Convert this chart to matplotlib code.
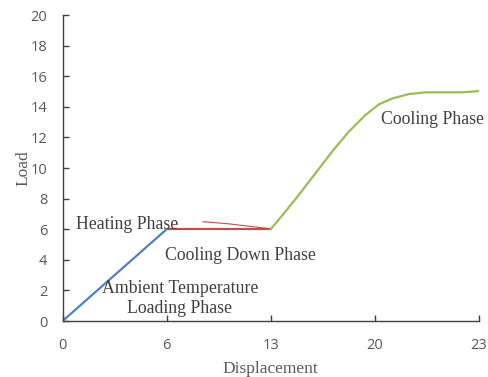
import matplotlib
matplotlib.use("Agg")
from matplotlib import pyplot as plt

# x positions are evenly spaced categories, labelled with displacement values
x_labels = ["0", "6", "13", "20", "23"]
y_ticks = list(range(0, 21, 2))

# loading phase (blue)
load_x = [0, 1]
load_y = [0, 6]

# cooling down phase (red, flat)
down_x = [1, 2]
down_y = [6, 6]

# small thin red trace above the flat segment
trace_x = [1.35, 1.59, 2.0]
trace_y = [6.49, 6.36, 6.03]

# cooling phase (green)
cool_x = [2.00, 2.14, 2.27, 2.43, 2.59, 2.75, 2.91, 3.04, 3.17, 3.33, 3.49, 3.68, 3.84, 4.00]
cool_y = [6.0, 7.14, 8.24, 9.65, 11.07, 12.37, 13.46, 14.16, 14.55, 14.84, 14.95, 14.95, 14.95, 15.03]

blue = "#4F81BD"
red = "#C0504D"
green = "#9BBB59"
grey = "#595959"
serif = "Liberation Serif"

fig = plt.figure(figsize=(4.89, 3.77), dpi=100)
ax = fig.add_axes([0.128, 0.1485, 0.851, 0.8115])

ax.plot(load_x, load_y, color=blue, linewidth=1.6, solid_capstyle="butt")
ax.plot(down_x, down_y, color=red, linewidth=1.6, solid_capstyle="butt")
ax.plot(trace_x, trace_y, color=red, linewidth=0.8)
ax.plot(cool_x, cool_y, color=green, linewidth=1.6, solid_joinstyle="round")

ax.set_xlim(0, 4)
ax.set_ylim(0, 20)
ax.set_xticks(range(len(x_labels)))
ax.set_xticklabels(x_labels)
ax.set_yticks(y_ticks)

for side in ["top", "right"]:
    ax.spines[side].set_visible(False)
for side in ["left", "bottom"]:
    ax.spines[side].set_color("#404040")
    ax.spines[side].set_linewidth(1.0)

ax.tick_params(direction="in", length=4, width=1, color="#404040",
               labelcolor=grey, labelsize=10.5)
ax.tick_params(axis="y", pad=11)
ax.tick_params(axis="x", pad=12)
for lbl in ax.get_xticklabels() + ax.get_yticklabels():
    lbl.set_family("Open Sans")

ax.set_xlabel("Displacement", family=serif, fontsize=12.5, color=grey, labelpad=6)
ax.set_ylabel("Load", family=serif, fontsize=12.5, color=grey, labelpad=-1)

txt = dict(family=serif, fontsize=12.8, color="#404040")
ax.text(0.13, 6.3, "Heating Phase", ha="left", va="center", **txt)
ax.text(0.98, 4.3, "Cooling Down Phase", ha="left", va="center", **txt)
ax.text(1.13, 2.15, "Ambient Temperature", ha="center", va="center", **txt)
ax.text(1.12, 0.85, "Loading Phase", ha="center", va="center", **txt)
ax.text(3.06, 13.2, "Cooling Phase", ha="left", va="center", **txt)

fig.savefig("out.png", dpi=100)
